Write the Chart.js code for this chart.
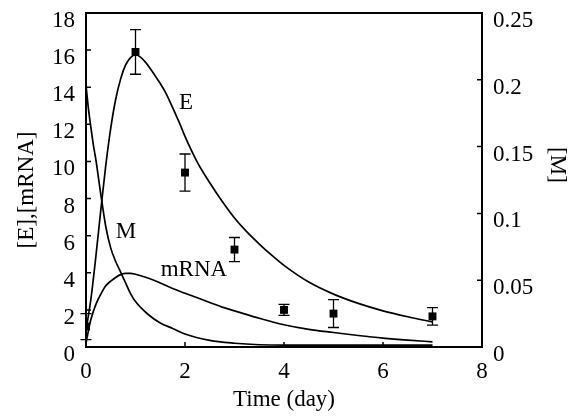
<!DOCTYPE html>
<html>
<head>
<meta charset="utf-8">
<script src="https://cdn.jsdelivr.net/npm/chart.js@4.4.1/dist/chart.umd.min.js"></script>
<style>
  html, body { margin: 0; padding: 0; background: #fff; }
  canvas { display: block; }
</style>
</head>
<body>
<canvas id="c" width="575" height="416"></canvas>
<script>
// ---- Data ----
const measuredDays = [0, 1, 2, 3, 4, 5, 7];
const measuredE    = [1.1, 15.9, 9.4, 5.25, 2.0, 1.8, 1.65];
const measuredErr  = [0.7, 1.2, 1.0, 0.65, 0.3, 0.75, 0.47];

const modelDaysE = [0, 0.1, 0.2, 0.3, 0.4, 0.5, 0.6, 0.7, 0.8, 0.9, 1.0, 1.1, 1.2, 1.3, 1.4, 1.5, 1.6, 1.7, 1.8, 1.9, 2.0, 2.25, 2.5, 2.75, 3.0, 3.25, 3.5, 3.75, 4.0, 4.5, 5.0, 5.5, 6.0, 6.5, 7.0];
const modelE     = [0.9, 2.6, 4.9, 7.4, 9.8, 11.8, 13.35, 14.45, 15.2, 15.6, 15.75, 15.62, 15.35, 15.0, 14.6, 14.2, 13.75, 13.2, 12.6, 12.0, 11.35, 9.95, 8.85, 7.85, 6.95, 6.2, 5.55, 4.95, 4.4, 3.5, 2.85, 2.35, 1.95, 1.63, 1.35];

const modelDaysMRNA = [0, 0.05, 0.1, 0.2, 0.3, 0.4, 0.5, 0.6, 0.7, 0.8, 0.9, 1.0, 1.25, 1.5, 1.75, 2.0, 2.25, 2.5, 2.75, 3.0, 3.5, 4.0, 4.5, 5.0, 5.5, 6.0, 6.5, 7.0];
const modelMRNA     = [0.2, 0.9, 1.5, 2.3, 2.85, 3.3, 3.55, 3.75, 3.9, 3.97, 3.97, 3.92, 3.72, 3.45, 3.15, 2.9, 2.65, 2.4, 2.15, 1.95, 1.55, 1.2, 0.95, 0.78, 0.62, 0.48, 0.37, 0.28];

const modelDaysM = [0, 0.05, 0.1, 0.15, 0.2, 0.3, 0.4, 0.5, 0.6, 0.7, 0.8, 0.9, 1.0, 1.25, 1.5, 1.75, 2.0, 2.5, 3.0, 3.5, 4.0, 5.0, 6.0, 7.0];
const modelM     = [0.196, 0.178, 0.164, 0.151, 0.140, 0.114, 0.090, 0.074, 0.064, 0.056, 0.048, 0.040, 0.034, 0.0245, 0.018, 0.0139, 0.0097, 0.0049, 0.0028, 0.0017, 0.0014, 0.0014, 0.0014, 0.0014];

const xTickValues     = [0, 2, 4, 6, 8];
const leftTickValues  = [0, 2, 4, 6, 8, 10, 12, 14, 16, 18];
const rightTickValues = [0, 0.05, 0.1, 0.15, 0.2, 0.25];

const curveLabelText = ['E', 'M', 'mRNA'];
const curveLabelDay  = [2.02, 0.81, 2.18];
const curveLabelVal  = [13.15, 6.2, 4.15];

const leftTitle  = '[E],[mRNA]';
const rightTitle = '[M]';

// ---- Helpers ----
const pts = (xs, ys) => xs.map((x, i) => ({ x: x, y: ys[i] }));
const FONT = 'Liberation Serif, Times New Roman, serif';
const INK = '#000';

const errorBarPlugin = {
  id: 'errorBars',
  beforeDatasetsDraw(chart) {
    const ctx = chart.ctx, xs = chart.scales.x, ys = chart.scales.y;
    ctx.save();
    ctx.strokeStyle = INK;
    ctx.lineWidth = 1.3;
    measuredDays.forEach((d, i) => {
      const px = xs.getPixelForValue(d);
      const top = ys.getPixelForValue(measuredE[i] + measuredErr[i]);
      const bot = ys.getPixelForValue(measuredE[i] - measuredErr[i]);
      ctx.beginPath();
      ctx.moveTo(px, top); ctx.lineTo(px, bot);
      ctx.moveTo(px - 5.5, top); ctx.lineTo(px + 5.5, top);
      ctx.moveTo(px - 5.5, bot); ctx.lineTo(px + 5.5, bot);
      ctx.stroke();
    });
    ctx.restore();
  }
};

const framePlugin = {
  id: 'frame',
  afterDraw(chart) {
    const ctx = chart.ctx, a = chart.chartArea;
    const xs = chart.scales.x, ys = chart.scales.y, y1 = chart.scales.y1;
    ctx.save();
    ctx.strokeStyle = INK;
    ctx.lineWidth = 2;
    ctx.strokeRect(a.left, a.top, a.right - a.left, a.bottom - a.top);
    ctx.lineWidth = 1.5;
    ctx.beginPath();
    xTickValues.forEach(v => { const p = xs.getPixelForValue(v); ctx.moveTo(p, a.bottom); ctx.lineTo(p, a.bottom - 5); });
    leftTickValues.forEach(v => { const p = ys.getPixelForValue(v); ctx.moveTo(a.left, p); ctx.lineTo(a.left + 5, p); });
    rightTickValues.forEach(v => { const p = y1.getPixelForValue(v); ctx.moveTo(a.right, p); ctx.lineTo(a.right - 5, p); });
    ctx.stroke();
    ctx.fillStyle = INK;
    ctx.textAlign = 'center';
    ctx.textBaseline = 'middle';
    ctx.font = '23px ' + FONT;
    curveLabelText.forEach((t, i) => {
      ctx.fillText(t, xs.getPixelForValue(curveLabelDay[i]), ys.getPixelForValue(curveLabelVal[i]));
    });
    ctx.save();
    ctx.translate(27, 190);
    ctx.rotate(-Math.PI / 2);
    ctx.fillText(leftTitle, 0, 0);
    ctx.restore();
    ctx.save();
    ctx.translate(557, 165);
    ctx.rotate(Math.PI / 2);
    ctx.fillText(rightTitle, 0, 0);
    ctx.restore();
    ctx.restore();
  }
};

const lineStyle = {
  borderColor: INK, borderWidth: 1.7, pointRadius: 0, fill: false,
  showLine: true, cubicInterpolationMode: 'monotone'
};

const zeroPad = s => { s.paddingTop = 0; s.paddingBottom = 0; s.paddingLeft = 0; s.paddingRight = 0; };

new Chart(document.getElementById('c'), {
  type: 'scatter',
  data: {
    datasets: [
      { label: 'E data', data: pts(measuredDays, measuredE), yAxisID: 'y',
        pointStyle: 'rect', pointRadius: 5.6, backgroundColor: INK, borderColor: INK, borderWidth: 0, showLine: false },
      Object.assign({ label: 'E', data: pts(modelDaysE, modelE), yAxisID: 'y' }, lineStyle),
      Object.assign({ label: 'mRNA', data: pts(modelDaysMRNA, modelMRNA), yAxisID: 'y' }, lineStyle),
      Object.assign({ label: 'M', data: pts(modelDaysM, modelM), yAxisID: 'y1' }, lineStyle)
    ]
  },
  options: {
    responsive: false,
    animation: false,
    layout: { padding: { top: 13, left: 0, right: 0, bottom: 0 } },
    plugins: { legend: { display: false }, tooltip: { enabled: false } },
    scales: {
      x: {
        type: 'linear', min: 0, max: 8,
        afterBuildTicks: s => { s.ticks = xTickValues.map(v => ({ value: v })); },
        afterFit: s => { s.height = 69; zeroPad(s); },
        grid: { display: false, drawTicks: false },
        border: { display: false },
        ticks: { color: INK, font: { family: FONT, size: 23 }, padding: 11, maxRotation: 0 },
        title: { display: true, text: 'Time (day)', color: INK, font: { family: FONT, size: 23 }, padding: { top: 0, bottom: 2 } }
      },
      y: {
        type: 'linear', position: 'left', min: 0, max: 18,
        afterBuildTicks: s => { s.ticks = leftTickValues.map(v => ({ value: v })); },
        afterFit: s => { s.width = 86; zeroPad(s); },
        grid: { display: false, drawTicks: false },
        border: { display: false },
        ticks: { color: INK, font: { family: FONT, size: 23 }, padding: 11, labelOffset: 8 },
        title: { display: false }
      },
      y1: {
        type: 'linear', position: 'right', min: 0, max: 0.25,
        afterBuildTicks: s => { s.ticks = rightTickValues.map(v => ({ value: v })); },
        afterFit: s => { s.width = 93; zeroPad(s); },
        grid: { display: false, drawTicks: false },
        border: { display: false },
        ticks: { color: INK, font: { family: FONT, size: 23 }, padding: 11, labelOffset: 8,
                 callback: v => String(+Number(v).toFixed(2)) },
        title: { display: false }
      }
    }
  },
  plugins: [errorBarPlugin, framePlugin]
});
</script>
</body>
</html>
